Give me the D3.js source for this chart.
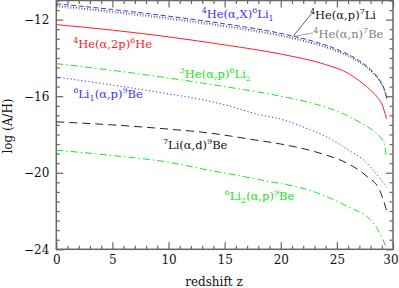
<!DOCTYPE html>
<html>
<head>
<meta charset="utf-8">
<script src="https://cdn.jsdelivr.net/npm/d3@7/dist/d3.min.js"></script>
<style>
body { margin: 0; background: #fff; }
text { font-family: "DejaVu Serif", serif; }
</style>
</head>
<body>
<svg width="399" height="288"></svg>
<script>
// curves: redshift z -> log(A/H)
const zHeX = [0, 5, 10, 15, 20, 23, 25, 27, 28, 28.8, 29.2, 29.45];
const vHeX = [-11.17, -11.47, -11.82, -12.22, -12.72, -13.15, -13.55, -14.15, -14.6, -15.15, -15.6, -16.1];
const vHeP7Li = [-11.27, -11.57, -11.92, -12.32, -12.82, -13.24, -13.63, -14.22, -14.66, -15.2, -15.64, -16.12];
const vHeN7Be = [-11.33, -11.64, -11.99, -12.39, -12.88, -13.3, -13.68, -14.26, -14.7, -15.23, -15.66, -16.14];

const zHe6He = [0, 5, 10, 15, 20, 24, 26, 27, 28, 28.6, 29, 29.42];
const vHe6He = [-12.26, -12.55, -12.9, -13.32, -13.8, -14.35, -14.8, -15.2, -15.68, -16.05, -16.4, -17.17];

const zHe3 = [0, 5, 10, 15, 20, 23, 25.5, 27, 28, 28.8, 29.2, 29.42];
const vHe3 = [-14.3, -14.65, -15.05, -15.5, -16.0, -16.4, -16.9, -17.35, -17.7, -18.1, -18.45, -19.17];

const zLi1 = [0, 5, 10, 12.8, 15, 18, 20.3, 22.6, 24, 26, 27.6, 28.5, 29, 29.42];
const vLi1 = [-15.0, -15.42, -15.88, -16.16, -16.45, -16.95, -17.25, -17.75, -18.1, -18.8, -19.45, -20.05, -20.4, -20.75];

const zLi7 = [0, 5, 10, 13, 15.5, 17.3, 20, 23.5, 25.9, 27.6, 28.8, 29.42];
const vLi7 = [-17.34, -17.5, -17.72, -17.88, -18.08, -18.25, -18.5, -18.98, -19.5, -20.15, -20.9, -21.95];

const zLi2 = [0, 5, 10, 13, 18, 23, 25.9, 28.2, 29.1, 29.42];
const vLi2 = [-18.82, -19.1, -19.45, -19.8, -20.35, -21.0, -21.75, -22.6, -23.5, -23.95];

// tick labels
const xTickLabels = [0, 5, 10, 15, 20, 25, 30];
const yTickLabels = [-24, -20, -16, -12];

// 曲线样式
const curves = [
  {z: zHeX, v: vHeX, color: "#3535ff", dash: "5,2.5"},
  {z: zHeX, v: vHeP7Li, color: "#222", dash: "1,1.8"},
  {z: zHeX, v: vHeN7Be, color: "#888", dash: "1,1.8"},
  {z: zHe6He, v: vHe6He, color: "#ff2020", dash: null},
  {z: zHe3, v: vHe3, color: "#22e022", dash: "7,3,1.5,3"},
  {z: zLi1, v: vLi1, color: "#3535ff", dash: "1.2,2.4"},
  {z: zLi7, v: vLi7, color: "#222", dash: "8,5"},
  {z: zLi2, v: vLi2, color: "#22e022", dash: "7,3,1.5,3"}
];

// labels: [kind, text] parts, anchor in data units
const labels = [
  {z: 1.5, v: -13.5, color: "#ff2020", parts: [["sup", "4"], ["n", "He(α,2p)"], ["sup", "6"], ["n", "He"]]},
  {z: 11.0, v: -15.03, color: "#22e022", parts: [["sup", "3"], ["n", "He(α,p)"], ["sup", "6"], ["n", "Li"], ["sub", "2"]]},
  {z: 1.5, v: -16.12, color: "#3535ff", parts: [["sup", "6"], ["n", "Li"], ["sub", "1"], ["n", "(α,p)"], ["sup", "9"], ["n", "Be"]]},
  {z: 9.5, v: -18.77, color: "#111", parts: [["sup", "7"], ["n", "Li(α,d)"], ["sup", "9"], ["n", "Be"]]},
  {z: 15.0, v: -21.43, color: "#22e022", parts: [["sup", "6"], ["n", "Li"], ["sub", "2"], ["n", "(α,p)"], ["sup", "9"], ["n", "Be"]]},
  {z: 12.95, v: -11.93, color: "#3535ff", parts: [["sup", "4"], ["n", "He(α,X)"], ["sup", "6"], ["n", "Li"], ["sub", "1"]]},
  {z: 22.6, v: -11.99, color: "#111", parts: [["sup", "4"], ["n", "He(α,p)"], ["sup", "7"], ["n", "Li"]]},
  {z: 22.9, v: -12.95, color: "#808080", parts: [["sup", "4"], ["n", "He(α,n)"], ["sup", "7"], ["n", "Be"]]}
];

// leader lines from labels to curves
const leaders = [
  {z1: 22.74, v1: -11.69, z2: 21.1, v2: -12.87, color: "#333"},
  {z1: 22.87, v1: -12.69, z2: 21.26, v2: -12.87, color: "#888"}
];

var svg = d3.select("svg");
var x = d3.scaleLinear().domain([0, 30]).range([56.3, 393]);
var y = d3.scaleLinear().domain([-24, -11]).range([249.3, 0.5]);

var frameColor = "#666";

// 坐标轴
function drawAxis(axisGen, transform, values, size, labelled) {
  var g = svg.append("g")
    .attr("transform", transform)
    .call(axisGen.tickValues(values).tickSize(-size).tickSizeOuter(0)
      .tickPadding(6)
      .tickFormat(labelled ? (d => d < 0 ? "−" + Math.abs(d) : d) : ""));
  g.select(".domain").remove();
  g.selectAll("line").attr("stroke", frameColor).attr("stroke-width", 1.2);
  g.selectAll("text").attr("font-family", "DejaVu Serif").attr("font-size", 12).attr("fill", "#111");
  return g;
}

var xMinor = d3.range(0, 31, 1).filter(d => d % 5 !== 0);
var yMinor = d3.range(-24, -10.9, 0.5).filter(d => !yTickLabels.includes(d));
var xMajor = d3.range(0, 31, 5);

drawAxis(d3.axisBottom(x), "translate(0," + y(-24) + ")", xMinor, 3.5, false);
drawAxis(d3.axisBottom(x), "translate(0," + y(-24) + ")", xMajor, 7, true)
  .selectAll("text")
  .text((d, i) => xTickLabels[i])
  .attr("dx", d => d === 30 ? -2.5 : 0);
drawAxis(d3.axisTop(x), "translate(0," + y(-11) + ")", xMinor, 3.5, false);
drawAxis(d3.axisTop(x), "translate(0," + y(-11) + ")", xMajor, 7, false);
drawAxis(d3.axisLeft(y), "translate(" + x(0) + ",0)", yMinor, 3.5, false);
drawAxis(d3.axisLeft(y), "translate(" + x(0) + ",0)", yTickLabels, 7, true)
  .selectAll("text").attr("dx", -1);
drawAxis(d3.axisRight(y), "translate(" + x(30) + ",0)", yMinor, 3.5, false);
drawAxis(d3.axisRight(y), "translate(" + x(30) + ",0)", yTickLabels, 7, false);

// 边框
svg.append("rect")
  .attr("x", x(0)).attr("y", y(-11))
  .attr("width", x(30) - x(0)).attr("height", y(-24) - y(-11))
  .attr("fill", "none").attr("stroke", frameColor).attr("stroke-width", 1.5);

// 曲线
var line = d3.line()
  .x(d => x(d[0]))
  .y(d => y(d[1]))
  .curve(d3.curveMonotoneX);

curves.forEach(c => {
  svg.append("path")
    .datum(d3.zip(c.z, c.v))
    .attr("d", line)
    .attr("fill", "none")
    .attr("stroke", c.color)
    .attr("stroke-width", 1)
    .attr("stroke-dasharray", c.dash);
});

leaders.forEach(l => {
  svg.append("line")
    .attr("x1", x(l.z1)).attr("y1", y(l.v1))
    .attr("x2", x(l.z2)).attr("y2", y(l.v2))
    .attr("stroke", l.color).attr("stroke-width", 0.8);
});

// 带上下标的标注
labels.forEach(lb => {
  var t = svg.append("text")
    .attr("x", x(lb.z)).attr("y", y(lb.v))
    .attr("fill", lb.color)
    .attr("font-size", 11.5);
  var shift = 0;
  lb.parts.forEach(p => {
    var target = p[0] === "sup" ? -5 : (p[0] === "sub" ? 3 : 0);
    t.append("tspan")
      .attr("dy", target - shift)
      .attr("font-size", p[0] === "n" ? 11.5 : 8)
      .text(p[1]);
    shift = target;
  });
});

// 轴标题
svg.append("text")
  .attr("x", 214).attr("y", 286)
  .attr("text-anchor", "middle")
  .attr("font-size", 12)
  .attr("fill", "#111")
  .text("redshift z");

svg.append("text")
  .attr("transform", "translate(12,126) rotate(-90)")
  .attr("text-anchor", "middle")
  .attr("font-size", 12)
  .attr("fill", "#111")
  .text("log (A/H)");
</script>
</body>
</html>
